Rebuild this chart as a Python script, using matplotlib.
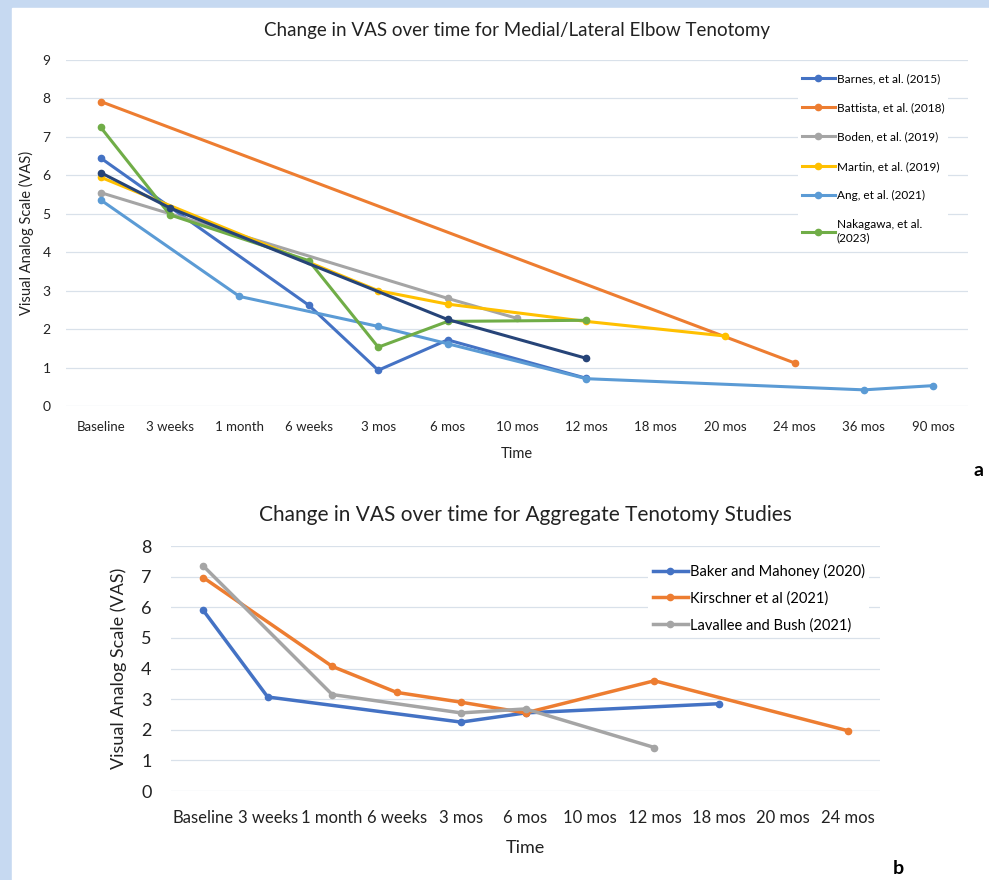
import matplotlib.pyplot as plt
import numpy as np

plt.rcParams['font.family'] = ['Lato', 'DejaVu Sans']

# panel a
cats_a = ['Baseline', '3 weeks', '1 month', '6 weeks', '3 mos', '6 mos', '10 mos',
          '12 mos', '18 mos', '20 mos', '24 mos', '36 mos', '90 mos']
nan = np.nan
barnes = [6.45, nan, nan, 2.62, 0.93, 1.72, nan, 0.72, nan, nan, nan, nan, nan]
battista = [7.92, nan, nan, nan, nan, nan, nan, nan, nan, nan, 1.12, nan, nan]
boden = [5.55, nan, nan, nan, nan, 2.8, 2.28, nan, nan, nan, nan, nan, nan]
martin = [5.95, nan, nan, nan, 3.0, 2.65, nan, 2.2, nan, 1.82, nan, nan, nan]
ang = [5.36, nan, 2.85, nan, 2.07, 1.62, nan, 0.71, nan, nan, nan, 0.42, 0.53]
nakagawa = [7.25, 4.97, nan, 3.78, 1.53, 2.2, nan, 2.23, nan, nan, nan, nan, nan]
overall = [6.07, 5.15, nan, nan, nan, 2.25, nan, 1.24, nan, nan, nan, nan, nan]

# panel b
cats_b = ['Baseline', '3 weeks', '1 month', '6 weeks', '3 mos', '6 mos', '10 mos',
          '12 mos', '18 mos', '20 mos', '24 mos']
baker = [5.9, 3.07, nan, nan, 2.25, 2.55, nan, nan, 2.85, nan, nan]
kirschner = [6.97, nan, 4.07, 3.22, 2.9, 2.55, nan, 3.6, nan, nan, 1.97]
lavallee = [7.35, nan, 3.15, nan, 2.55, 2.68, nan, 1.42, nan, nan, nan]

BLUE = '#4472C4'
ORANGE = '#ED7D31'
GRAY = '#A5A5A5'
YELLOW = '#FFC000'
LBLUE = '#5B9BD5'
GREEN = '#70AD47'
NAVY = '#264478'


def draw(ax, values, color, label=None, lw=2.2):
    y = np.array(values, dtype=float)
    x = np.arange(len(y))
    ok = ~np.isnan(y)
    ax.plot(x[ok], y[ok], color=color, lw=lw, marker='o', ms=4.5, label=label)


def style(ax, cats, ymax, fs, yfs, pad):
    ax.set_xlim(-0.5, len(cats) - 0.5)
    ax.set_ylim(0, ymax)
    ax.set_xticks(range(len(cats)))
    ax.set_xticklabels(cats, fontsize=fs)
    ax.set_yticks(range(ymax + 1))
    ax.tick_params(axis='y', labelsize=yfs)
    ax.tick_params(length=0, pad=pad, colors='#222222')
    ax.grid(axis='y', color='#D9E1EA', lw=0.9)
    ax.set_axisbelow(True)
    for s in ax.spines.values():
        s.set_visible(False)


fig = plt.figure(figsize=(9.89, 8.80), dpi=100, facecolor='#C6D9F1')
bg = plt.Rectangle((12 / 989, 0), 1, 872 / 880, transform=fig.transFigure,
                   color='white', zorder=-10)
fig.add_artist(bg)

ax1 = fig.add_axes([66 / 989, 474 / 880, 902 / 989, 346 / 880])
ax1.set_facecolor('none')
draw(ax1, barnes, BLUE, 'Barnes, et al. (2015)')
draw(ax1, battista, ORANGE, 'Battista, et al. (2018)')
draw(ax1, boden, GRAY, 'Boden, et al. (2019)')
draw(ax1, martin, YELLOW, 'Martin, et al. (2019)')
draw(ax1, ang, LBLUE, 'Ang, et al. (2021)')
draw(ax1, nakagawa, GREEN, 'Nakagawa, et al.\n(2023)')
draw(ax1, overall, NAVY)
style(ax1, cats_a, 9, 9.5, 10, 11)
ax1.set_title('Change in VAS over time for Medial/Lateral Elbow Tenotomy', fontsize=13.5,
              pad=17, color='#222222')
ax1.set_xlabel('Time', fontsize=10.5, color='#222222', labelpad=10)
ax1.set_ylabel('Visual Analog Scale (VAS)', fontsize=10.5, color='#222222', labelpad=6)
ax1.legend(loc='upper left', bbox_to_anchor=(0.805, 0.99), fontsize=8.5, frameon=True,
           edgecolor='none', facecolor='white', framealpha=1, handlelength=2.8,
           handletextpad=0.2, labelspacing=1.55, borderpad=0.3)
fig.text(978 / 989, 1 - 470 / 880, 'a', fontsize=14, fontweight='bold', ha='center', va='center')

ax2 = fig.add_axes([171 / 989, 89 / 880, 709 / 989, 245 / 880])
ax2.set_facecolor('none')
draw(ax2, baker, BLUE, 'Baker and Mahoney (2020)', lw=2.5)
draw(ax2, kirschner, ORANGE, 'Kirschner et al (2021)', lw=2.5)
draw(ax2, lavallee, GRAY, 'Lavallee and Bush (2021)', lw=2.5)
style(ax2, cats_b, 8, 12, 13, 14)
ax2.set_title('Change in VAS over time for Aggregate Tenotomy Studies', fontsize=15,
              pad=18, color='#222222')
ax2.set_xlabel('Time', fontsize=13, color='#222222', labelpad=10)
ax2.set_ylabel('Visual Analog Scale (VAS)', fontsize=13, color='#222222', labelpad=10)
ax2.legend(loc='upper left', bbox_to_anchor=(0.663, 0.975), fontsize=10.5, frameon=True,
           edgecolor='none', facecolor='white', framealpha=1, handlelength=2.4,
           handletextpad=0.15, labelspacing=0.85, borderpad=0.3)
fig.text(898 / 989, 1 - 868 / 880, 'b', fontsize=14, fontweight='bold', ha='center', va='center')

fig.savefig('out.png', dpi=100, facecolor=fig.get_facecolor())
